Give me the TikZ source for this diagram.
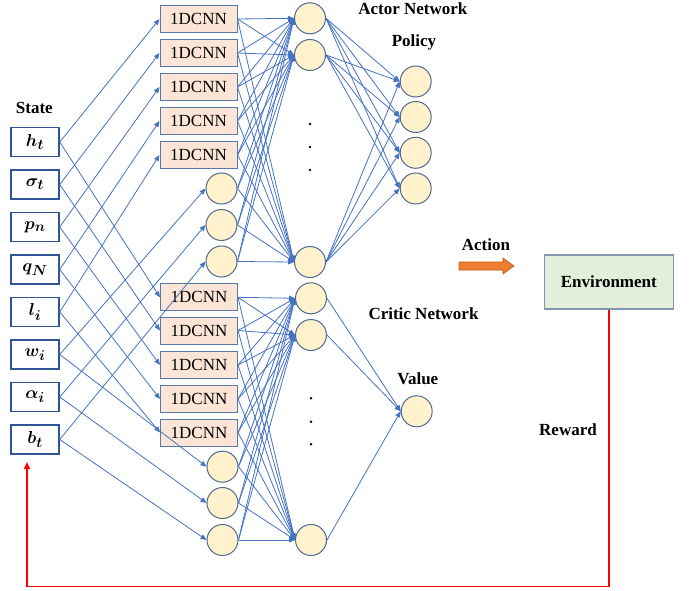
\documentclass[tikz,border=0pt]{standalone}
\usepackage{fontspec}
\setmainfont{Liberation Serif}
\usepackage{amsmath,bm}
\usetikzlibrary{arrows.meta}
\definecolor{connblue}{HTML}{4472C4}
\definecolor{inblue}{HTML}{2F5597}
\definecolor{cnnfill}{HTML}{FBE5D6}
\definecolor{cnnborder}{HTML}{5B79A8}
\definecolor{neuronfill}{HTML}{FFF2CC}
\definecolor{neuronborder}{HTML}{4F6A91}
\definecolor{envfill}{HTML}{E2EFDA}
\definecolor{envborder}{HTML}{8496B0}
\definecolor{actorange}{HTML}{ED7D31}
\definecolor{actborder}{HTML}{C55A11}
\begin{document}
\begin{tikzpicture}[x=1pt,y=-1pt,
  conn/.style={draw=connblue, line width=0.8pt, -{Triangle[length=6pt,width=5pt]}},
  inbox/.style={draw=inblue, line width=1.5pt, fill=white, minimum width=48pt, minimum height=29pt, inner sep=0pt, font=\fontsize{19}{22}\selectfont},
  cnn/.style={draw=cnnborder, fill=cnnfill, line width=1pt, minimum width=77pt, minimum height=27pt, inner sep=0pt, font=\fontsize{17}{20}\selectfont},
  neuron/.style={circle, draw=neuronborder, fill=neuronfill, line width=1pt, minimum size=31pt, inner sep=0pt},
  lbl/.style={font=\fontsize{17}{20}\selectfont\bfseries, inner sep=0pt, anchor=base},
  dotmark/.style={fill=black}
]
\useasboundingbox (0,0) rectangle (694,591);

% inputs
\node[inbox] (in1) at (35,142)   {$\bm{h_t}$};
\node[inbox] (in2) at (35,184.5) {$\bm{\sigma_t}$};
\node[inbox] (in3) at (35,227)   {$\bm{p_n}$};
\node[inbox] (in4) at (35,269.5) {$\bm{q_N}$};
\node[inbox] (in5) at (35,312)   {$\bm{l_i}$};
\node[inbox] (in6) at (35,354.5) {$\bm{w_i}$};
\node[inbox] (in7) at (35,397)   {$\bm{\alpha_i}$};
\node[inbox] (in8) at (35,439.5) {$\bm{b_t}$};
\node[lbl] (state) at (34.3,114) {State};

% first layer, actor branch
\node[cnn] (t1) at (198.5,19)  {1DCNN};
\node[cnn] (t2) at (198.5,53)  {1DCNN};
\node[cnn] (t3) at (198.5,87)  {1DCNN};
\node[cnn] (t4) at (198.5,121) {1DCNN};
\node[cnn] (t5) at (198.5,155) {1DCNN};
\node[neuron] (t6) at (221.5,188.5) {};
\node[neuron] (t7) at (221.5,225)   {};
\node[neuron] (t8) at (221.5,261.5) {};

% first layer, critic branch
\node[cnn] (b1) at (199,297.3) {1DCNN};
\node[cnn] (b2) at (199,330.5) {1DCNN};
\node[cnn] (b3) at (199,365)   {1DCNN};
\node[cnn] (b4) at (199,399)   {1DCNN};
\node[cnn] (b5) at (199,432.5) {1DCNN};
\node[neuron] (b6) at (222.5,466.7) {};
\node[neuron] (b7) at (222.5,503)   {};
\node[neuron] (b8) at (222.5,540)   {};

% hidden layers
\node[neuron] (a1) at (310,18.3) {};
\node[neuron] (a2) at (310,55)   {};
\node[neuron] (a3) at (310,262)  {};
\node[neuron] (c1) at (311,298.3) {};
\node[neuron] (c2) at (311,335)   {};
\node[neuron] (c3) at (311,540)   {};

% outputs
\node[neuron] (p1) at (415.7,81.5)  {};
\node[neuron] (p2) at (415.7,117)   {};
\node[neuron] (p3) at (415.7,152.8) {};
\node[neuron] (p4) at (415.7,188.5) {};
\node[neuron] (v)  at (416.7,411.3) {};

% dots
\foreach \yy in {124,147,170} \fill[dotmark] (310,\yy) circle (1.4pt);
\foreach \yy in {398.3,421.7,444.3} \fill[dotmark] (311,\yy) circle (1.4pt);

% labels
\node[lbl] (actorlbl) at (412.8,15) {Actor Network};
\node[lbl] (policylbl) at (414,46.5) {Policy};
\node[lbl] (criticlbl) at (423.5,319.3) {Critic Network};
\node[lbl] (valuelbl) at (417.8,384) {Value};
\node[lbl] (actionlbl) at (486,250.7) {Action};
\node[lbl] (rewardlbl) at (568,435) {Reward};

% connections input -> first layer
\foreach \i in {1,...,8} {
  \draw[conn] (in\i.east) -- (t\i.west);
  \draw[conn] (in\i.east) -- (b\i.west);
}
% first layer -> hidden
\foreach \i in {1,...,8} {
  \foreach \j in {1,2,3} {
    \draw[conn] (t\i.east) -- (a\j.west);
    \draw[conn] (b\i.east) -- (c\j.west);
  }
}
% hidden -> outputs
\foreach \j in {1,2,3} {
  \foreach \k in {1,...,4} {
    \draw[conn] (a\j.east) -- (p\k.west);
  }
  \draw[conn] (c\j.east) -- (v.west);
}

% action arrow
\filldraw[fill=actorange, draw=actborder, line width=0.6pt, line join=miter]
  (459,262) -- (503,262) -- (503,258) -- (514,266) -- (503,274) -- (503,270) -- (459,270) -- cycle;

% environment
\node[draw=envborder, fill=envfill, line width=1.2pt, minimum width=129pt, minimum height=54pt,
      inner sep=0pt, font=\fontsize{17}{20}\selectfont\bfseries] (env) at (608.8,282) {Environment};

% reward feedback
\coordinate (rcorner) at (27,586.5);
\coordinate (rtip) at (27,462);
\draw[red, line width=1.8pt, -{Triangle[length=7pt,width=6pt]}] (env.south) |- (rcorner) -- (rtip);
\end{tikzpicture}
\end{document}
